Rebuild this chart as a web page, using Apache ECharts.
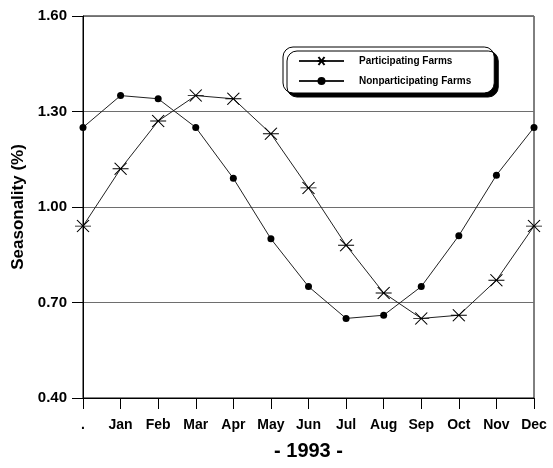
<!DOCTYPE html>
<html>
<head>
<meta charset="utf-8">
<script src="https://cdn.jsdelivr.net/npm/echarts@6/dist/echarts.min.js"></script>
<style>
  html, body { margin: 0; padding: 0; background: #fff; }
  #chart { width: 553px; height: 468px; }
</style>
</head>
<body>
<div id="chart"></div>
<script>
// data
const months = [".", "Jan", "Feb", "Mar", "Apr", "May", "Jun", "Jul", "Aug", "Sep", "Oct", "Nov", "Dec"];
const participating = [0.94, 1.12, 1.27, 1.35, 1.34, 1.23, 1.06, 0.88, 0.73, 0.65, 0.66, 0.77, 0.94];
const nonParticipating = [1.25, 1.35, 1.34, 1.25, 1.09, 0.90, 0.75, 0.65, 0.66, 0.75, 0.91, 1.10, 1.25];
const yTicks = [0.40, 0.70, 1.00, 1.30, 1.60];

const font = "'Liberation Sans', Arial, sans-serif";
const starPath = 'path://M2,0L14,12M14,0L2,12M0,6L16,6';

const chart = echarts.init(document.getElementById('chart'));

const option = {
  animation: false,
  backgroundColor: '#fff',
  grid: {
    left: 83, right: 19, top: 16, bottom: 70,
    containLabel: false,
    outerBoundsMode: 'none',
    show: true, borderColor: '#000', borderWidth: 1
  },
  legend: {
    left: 283, top: 47,
    orient: 'vertical',
    itemWidth: 45,
    itemHeight: 10,
    itemGap: 10,
    padding: [9, 23, 7, 15],
    backgroundColor: '#fff',
    borderColor: '#000',
    borderWidth: 1,
    borderRadius: 10,
    shadowColor: '#000',
    shadowBlur: 0,
    shadowOffsetX: 4,
    shadowOffsetY: 4,
    textStyle: { fontFamily: font, fontWeight: 'bold', fontSize: 10, color: '#000', padding: [0, 0, 0, 10] },
    data: ['Participating Farms', 'Nonparticipating Farms']
  },
  xAxis: {
    type: 'category',
    data: months,
    boundaryGap: false,
    axisLine: { lineStyle: { color: '#000', width: 1 } },
    axisTick: { alignWithLabel: true, length: 11, lineStyle: { color: '#000' } },
    axisLabel: { margin: 20, fontFamily: font, fontWeight: 'bold', fontSize: 14, color: '#000' },
    name: '- 1993 -',
    nameLocation: 'middle',
    nameGap: 43,
    nameTextStyle: { fontFamily: font, fontWeight: 'bold', fontSize: 20, color: '#000' },
    splitLine: { show: false }
  },
  yAxis: {
    type: 'value',
    min: yTicks[0],
    max: yTicks[yTicks.length - 1],
    interval: 0.3,
    axisLine: { show: true, lineStyle: { color: '#000', width: 1 } },
    axisTick: { show: true, inside: false, length: 11, lineStyle: { color: '#000', width: 1 } },
    axisLabel: {
      margin: 16, fontFamily: font, fontWeight: 'bold', fontSize: 15, color: '#000',
      formatter: v => v.toFixed(2)
    },
    splitLine: { show: true, lineStyle: { color: '#6e6e6e', width: 1 } },
    name: 'Seasonality (%)',
    nameLocation: 'middle',
    nameGap: 52,
    nameTextStyle: { fontFamily: font, fontWeight: 'bold', fontSize: 17, color: '#000' }
  },
  series: [
    {
      name: 'Participating Farms',
      type: 'line',
      data: participating,
      symbol: starPath,
      symbolSize: [16, 12],
      showAllSymbol: true,
      lineStyle: { color: '#222', width: 1 },
      itemStyle: { color: 'transparent', borderColor: '#000', borderWidth: 1 },
      z: 3
    },
    {
      name: 'Nonparticipating Farms',
      type: 'line',
      data: nonParticipating,
      symbol: 'circle',
      symbolSize: 7,
      showAllSymbol: true,
      lineStyle: { color: '#222', width: 1 },
      itemStyle: { color: '#000', borderColor: '#000', borderWidth: 0 },
      z: 3
    }
  ]
};

chart.setOption(option);
</script>
</body>
</html>
